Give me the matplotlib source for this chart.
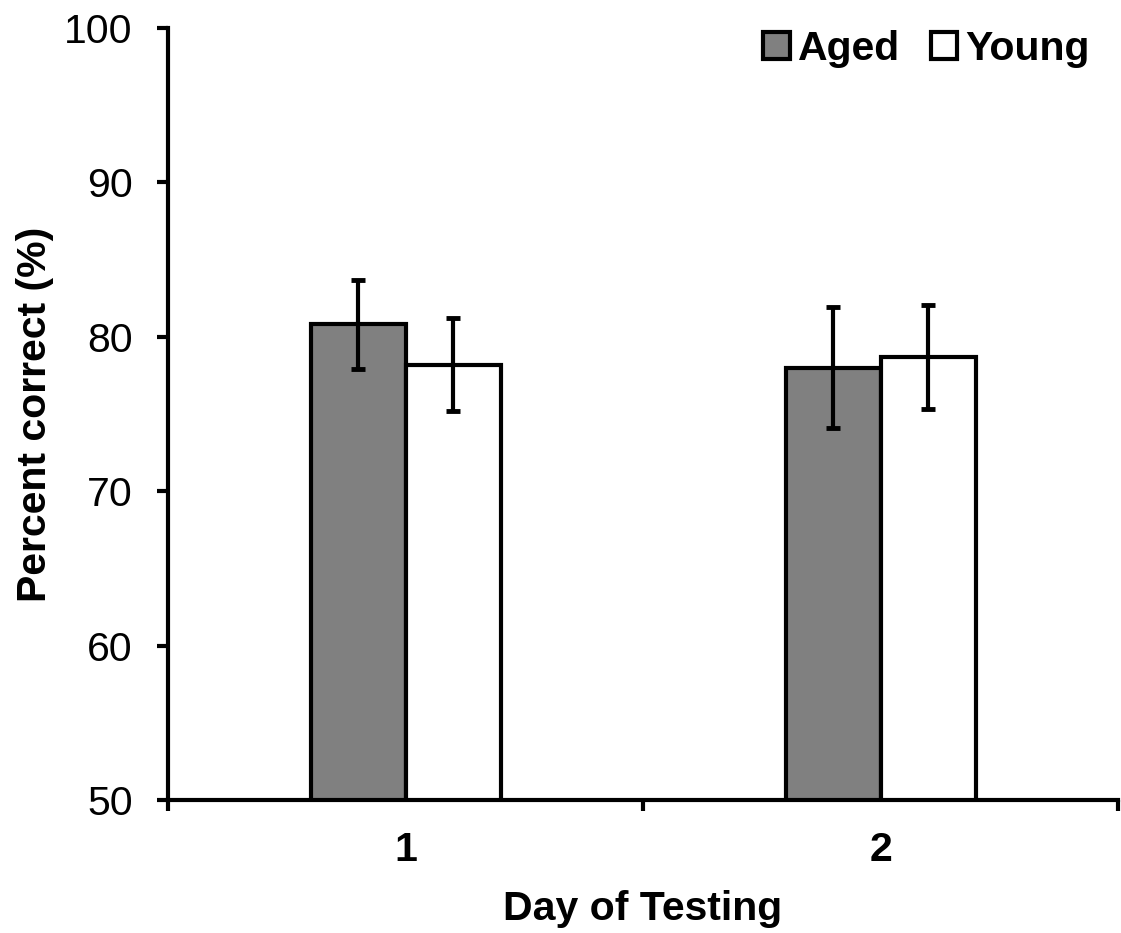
import matplotlib
matplotlib.use('Agg')
import matplotlib.pyplot as plt
import numpy as np

plt.rcParams['font.family'] = ['Liberation Sans', 'DejaVu Sans']

# data
days = ['1', '2']
aged = [80.8, 78.0]
aged_err = [2.9, 3.9]
young = [78.2, 78.7]
young_err = [3.0, 3.35]

x = np.arange(1, len(days) + 1)
w = 0.2
fs = 29.5

fig = plt.figure(figsize=(11.21, 9.33), dpi=100)
ax = fig.add_axes([0.1499, 0.1426, 0.8475, 0.8274])

err_kw = dict(elinewidth=3, capsize=5, capthick=3.5, ecolor='black')
ax.bar(x - w / 2, aged, w, yerr=aged_err, color='#808080', edgecolor='black',
       linewidth=3, label='Aged', error_kw=err_kw)
ax.bar(x + w / 2, young, w, yerr=young_err, color='white', edgecolor='black',
       linewidth=3, label='Young', error_kw=err_kw)

ax.set_xlim(0.5, len(days) + 0.5)
ax.set_ylim(50, 100)
ax.set_yticks(np.arange(50, 101, 10))

# category labels on major ticks, tick marks between categories
ax.set_xticks(x)
ax.set_xticklabels(days, fontsize=fs, fontweight='bold')
ax.set_xticks(np.arange(0.5, len(days) + 1, 1.0), minor=True)
ax.tick_params(axis='x', which='major', length=0, pad=22)
ax.tick_params(axis='x', which='minor', direction='out', length=8, width=3)
ax.tick_params(axis='y', direction='out', length=8, width=3, labelsize=fs, pad=17.5)

for s in ['top', 'right']:
    ax.spines[s].set_visible(False)
for s in ['left', 'bottom']:
    ax.spines[s].set_linewidth(3)

ax.set_ylabel('Percent correct (%)', fontsize=fs, fontweight='bold')
ax.yaxis.set_label_coords(-0.12, 0.5)
ax.set_xlabel('Day of Testing', fontsize=fs, fontweight='bold')
ax.xaxis.set_label_coords(0.5, -0.117)

leg = ax.legend(loc='upper right', bbox_to_anchor=(1090 / 1121, 1 - 30 / 933),
                bbox_transform=fig.transFigure, ncol=2, frameon=False,
                prop={'size': fs, 'weight': 'bold'}, handlelength=0.65,
                handleheight=0.65, handletextpad=0.2, columnspacing=0.75,
                borderaxespad=0, borderpad=0)

fig.savefig('out.png', dpi=100)
